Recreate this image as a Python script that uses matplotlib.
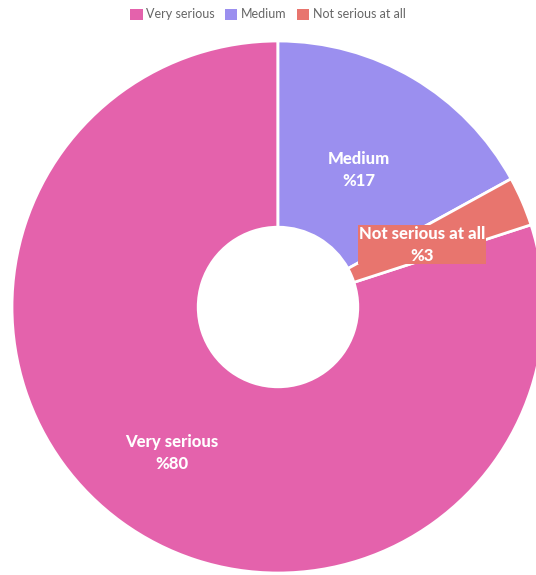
import numpy as np
import matplotlib.pyplot as plt
from matplotlib.patches import Patch

labels = ["Very serious", "Medium", "Not serious at all"]
values = [80, 17, 3]
colors = ["#E462AC", "#9B8FEF", "#E8756E"]
label_radius = [0.68, 0.60, 0.59]

W, H = 536, 575
cx, cy, R = 278, 307, 266  # pie centre and radius in pixels

fig = plt.figure(figsize=(W / 100, H / 100), dpi=100)
ax = fig.add_axes([0, 0, 1, 1])
ax.axis("off")

start = 90 + 360 * values[0] / sum(values)
wedges, _ = ax.pie(values, colors=colors, startangle=start, counterclock=False,
                   radius=1, wedgeprops=dict(width=0.70, edgecolor="white", linewidth=2))
ax.set_xlim(-cx / R, (W - cx) / R)
ax.set_ylim(-(H - cy) / R, cy / R)
ax.set_aspect("auto")

for w, lab, val, r in zip(wedges, labels, values, label_radius):
    ang = np.deg2rad((w.theta1 + w.theta2) / 2)
    x, y = r * np.cos(ang), r * np.sin(ang)
    bbox = None
    if lab == "Not serious at all":
        bbox = dict(boxstyle="square,pad=0.05", facecolor=colors[2], edgecolor="none")
    ax.text(x, y, f"{lab}\n%{val}", ha="center", va="center", color="white",
            fontsize=12, fontweight=900, family="Lato", linespacing=1.45, bbox=bbox)

handles = [Patch(facecolor=c, edgecolor="none") for c in colors]
fig.legend(handles, labels, loc="upper center", bbox_to_anchor=(0.5, 1.005), ncol=3,
           frameon=False, handlelength=1.0, handleheight=1.0,
           handletextpad=0.3, columnspacing=0.8, labelcolor="#666666",
           prop={"family": "Lato", "size": 9})

fig.savefig("out.png", dpi=100)
